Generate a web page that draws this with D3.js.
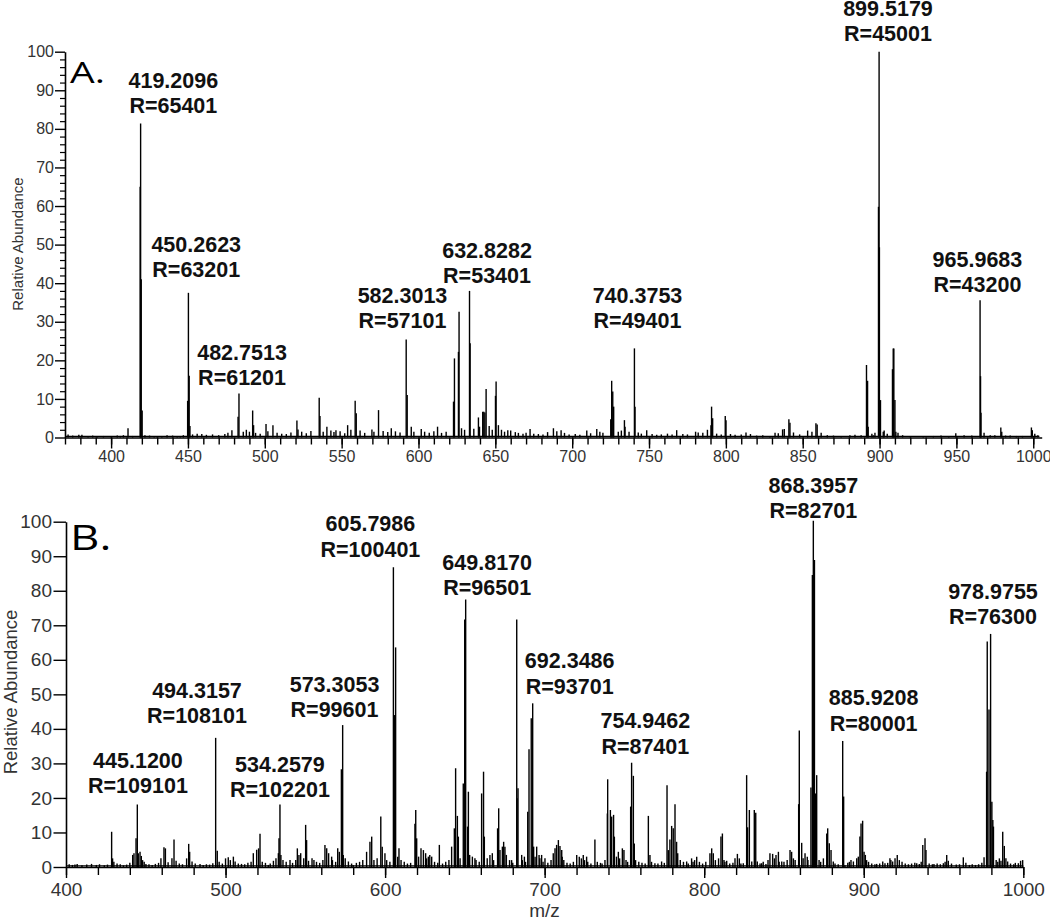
<!DOCTYPE html>
<html><head><meta charset="utf-8">
<script src="https://cdn.jsdelivr.net/npm/d3@7"></script>
<style>
body{margin:0;background:#fff}
svg{display:block}
text{font-family:"Liberation Sans",Arial,sans-serif}
text.letter{font-family:"Open Sans",Lato,sans-serif}
</style></head>
<body><svg id="c" width="1050" height="923"></svg>
<script>
// ---------- DATA ----------
// Panel A: [m/z, relative abundance]
const peaksA = [
 [372,0.8],[375,0.5],[379,0.7],[381,0.7],[385,0.4],[388,0.5],[391,0.4],[395,0.4],[400,0.3],[404,0.5],[406,0.4],[408,0.6],[411,2.4],[414,0.4],
 [418.9,65],[419.2,81.4],[419.6,41],[420.2,7],[422,0.6],[425,0.5],[428,0.4],[430,0.4],[433,0.4],[436.4,0.6],[440,0.5],[443,0.3],[445,0.4],[447,0.6],
 [449.8,9.5],[450.3,37.5],[450.8,16],[451.3,3],[453,0.8],[456,1.0],[459,0.9],[462,0.7],[466,0.8],[470,0.6],[474,0.9],[476,1.2],[478.6,1.9],
 [482.6,5.4],[483.2,11.4],[486,1.5],[488,2.0],[490,1.5],[492.1,7.0],[492.7,3.2],[494,1.2],[497,1.0],[500.8,3.5],[502,1.6],[505.3,3.2],[508,1.2],
 [511,1.0],[514,0.9],[517,1.3],[520.9,4.4],[521.6,2.1],[524,1.5],[527,1.1],[530,1.7],[535.4,10.3],[535.9,5.6],[538,1.5],[540.4,2.8],[543,1.8],
 [545,1.4],[546.3,1.9],[549,1.6],[552,1.1],[553.9,3.2],[556,2.0],[558.8,9.5],[559.5,6.3],[562,1.8],[565,1.2],[569.7,2.1],[571,1.5],[574,7.1],
 [577,1.7],[580,1.4],[582.3,2.4],[585,1.6],[588,1.3],[592,25.4],[592.65,11],[595.3,2.8],[597,1.5],[601.8,2.2],[604,1.5],[607,1.2],[610,1.6],
 [612.4,2.8],[615,1.2],[618,1.5],[622.8,9.3],[623.4,20.5],[626,22.2],[626.4,32.6],[628,2.4],[630,2.0],[633.2,38.0],[633.6,24.4],[636,2.3],
 [639,5.2],[639.7,2.8],[641.8,6.7],[642.5,6.7],[643.2,6.5],[644,12.6],[646,3.0],[648,2.0],[650.1,10.8],[650.5,14.5],[652,3.2],[654,2.0],[656,1.5],
 [658.1,1.9],[660,1.8],[663,1.4],[665,1.2],[668,1.0],[670,1.2],[672.6,2.2],[675,1.0],[678,0.9],[681,0.8],[684,1.4],[687.8,2.4],[690,1.6],
 [692.8,1.9],[695,1.2],[698,0.8],[702,0.9],[705,0.7],[709.5,1.8],[712,1.1],[716,2.2],[718,1.5],[720,1.2],[725.1,4.7],[725.7,14.7],[726.4,11.9],
 [727,8.0],[730,1.5],[732,1.8],[734,4.5],[734.4,2.8],[737,1.5],[740.5,23.1],[740.9,8.0],[743,1.3],[745,1.0],[748.5,1.9],[752,0.9],[755,0.7],
 [758,0.8],[762,1.0],[765,0.8],[768,1.9],[772,0.9],[775,0.8],[780.3,1.5],[782,1.3],[785,1.2],[788,2.0],[790.3,3.2],[790.7,8.0],[791.4,5.0],
 [794,1.0],[797,0.8],[799.6,5.6],[800.1,4.5],[803,0.9],[806,0.7],[810,0.8],[813.1,1.3],[816,0.9],[820,0.5],[824,0.6],[828.7,0.4],[832,1.2],
 [834.1,1.1],[836.9,2.1],[838,2.2],[841,4.7],[841.7,3.8],[844,1.3],[848,0.8],[853.2,1.8],[856,1.5],[858.6,3.7],[859.4,3.4],[862,1.2],[866,0.6],
 [870,0.5],[875,0.4],[880.7,0.6],[884,0.7],[888,0.6],[891.5,18.8],[892.2,14.7],[892.6,2.8],[895,1.0],[895.9,0.6],[897,1.2],
 [899.3,59.8],[899.7,100],[899.9,49.3],[900.6,9.7],[902.4,1.5],[903,1.8],[905,1.0],[908.4,17.7],[908.9,23.1],[909.3,23.1],[910,9.7],[910.6,1.5],
 [912,1.2],[915,0.6],[920,0.4],[928.4,0.4],[935,0.4],[940,0.5],[945,0.4],[949.6,1.1],[955,0.6],[960,0.5],[965.4,35.6],[965.7,15.9],[966,6.4],
 [968,1.2],[972,0.6],[975,0.6],[978.9,2.6],[979.5,1.5],[982,0.5],[985,0.5],[989,0.4],[993,0.4],[998.8,2.6],[999.4,1.9],[1001,1.0],[1003,0.6]
];
// annotation: [label line 1, label line 2, anchor m/z, anchor abundance]
const labelsA = [
 ["419.2096","R=65401",440.5,84.0],
 ["450.2623","R=63201",455.4,41.6],
 ["482.7513","R=61201",485.2,13.6],
 ["582.3013","R=57101",589.6,28.4],
 ["632.8282","R=53401",644.6,40.0],
 ["740.3753","R=49401",742.5,28.4],
 ["899.5179","R=45001",905.5,102.7],
 ["965.9683","R=43200",963.7,37.7]
];
const xMajorA = [400,450,500,550,600,650,700,750,800,850,900,950,1000];
const yMajor = [0,10,20,30,40,50,60,70,80,90,100];

// Panel B
const peaksB = [
 [402,0.8],[404,0.6],[405.6,0.7],[407,0.9],[410,0.5],[413,0.7],[416,0.9],[419,0.6],[421,0.8],[424,0.5],[426,0.7],
 [428.6,10.2],[429.2,2.5],[430,1.5],[432,1.0],[434,0.8],[436,0.5],[438,0.7],[440,1.2],[441.8,3.5],[442.6,4.0],[443.9,8.3],[444.7,18.1],
 [445.3,4.0],[446.4,4.4],[447.2,3.2],[448,2.0],[449,1.5],[450.1,0.9],[452,0.8],[454,0.6],[456,0.9],[458,1.2],[459.5,2.5],[461.4,5.7],[462.3,5.4],
 [464,1.4],[466.4,2.5],[467.7,8.0],[469,1.8],[471,1.0],[473,0.8],[475.6,2.5],[476.9,6.7],[477.5,4.4],[479,1.6],[481,1.0],[484,0.9],[486,0.6],
 [488,0.8],[490,0.7],[492,1.1],[493.8,37.4],[494.8,4.7],[496,1.5],[498,1.0],[500,2.5],[501.7,2.8],[503,2.0],[504.9,3.0],[506,1.6],[508,1.0],
 [510,0.9],[512,0.8],[514,1.2],[516,1.5],[517.4,4.0],[519.5,5.0],[520.7,5.4],[521.6,9.6],[523,1.5],[525,1.2],[526.8,0.6],[528,1.0],[530,1.8],
 [531.6,2.5],[533.1,4.0],[533.5,8.3],[534.1,18.1],[534.7,3.5],[536,2.0],[538,1.5],[540.4,2.0],[542,1.2],[544,2.0],[545,5.4],[546,3.5],[547.1,4.0],
 [549,2.5],[550.2,12.2],[550.8,7.8],[552,1.8],[554.2,2.5],[555.4,2.0],[557,1.5],[559,1.2],[561,2.0],[562.3,6.4],[563.4,5.4],[564.6,4.0],
 [566.5,3.0],[567,2.0],[569,1.5],[570.3,5.4],[571.3,4.4],[572.6,28.3],[573.4,41.1],[573.8,3.5],[575,2.5],[577,1.6],[579,1.0],[580,0.6],[582,1.2],
 [584,1.5],[586,2.0],[588.4,4.4],[590.5,7.3],[591.6,8.8],[593,2.0],[595,2.5],[597.3,14.6],[598.2,5.9],[599.9,4.0],[601,2.0],[603,1.5],
 [605.2,86.8],[605.9,44.0],[606.6,63.6],[607.9,3.0],[608.7,5.4],[610,2.0],[612,1.5],[614,1.0],[616,1.2],[618.7,12.5],[619.2,16.5],[619.8,8.3],
 [621,3.0],[622.5,5.4],[624,4.9],[625.4,4.0],[626,2.5],[627.1,3.0],[628,3.5],[629.2,3.0],[631,1.5],[633,1.2],[634,6.4],[636,1.0],[638,1.5],
 [640,2.0],[641.7,5.9],[643.4,11.2],[644.2,28.6],[645.3,14.8],[645.9,8.8],[647,2.5],[649,24.2],[649.9,71.7],[650.5,77.5],[651.7,11.7],[652.2,21.8],
 [653,3.5],[654.7,3.0],[656.3,2.5],[657,2.0],[659,1.5],[660.5,21.3],[661.7,27.6],[662.2,8.8],[664,2.5],[665.7,3.5],[667.2,4.0],[668,2.0],
 [670.5,11.2],[671.2,17.0],[672,4.9],[673.5,5.9],[674.3,7.3],[675.1,5.9],[676,3.5],[678,2.0],[679.3,2.0],[680,1.2],[682.5,71.7],[682.7,19.9],
 [683.3,22.8],[685.6,3.5],[686,2.0],[687.3,3.0],[688,1.5],[689.4,16.0],[690.2,34.1],[691.6,43.1],[692.5,47.4],[693.1,5.9],[694,3.0],[695,5.9],
 [696.5,3.5],[697,2.5],[698.1,3.5],[699,1.5],[700.2,2.5],[702,1.2],[704,2.0],[705.4,4.0],[706.5,5.4],[707.5,6.4],[708.6,7.8],[709.6,6.1],
 [710.7,4.9],[711,3.0],[712,2.0],[714,1.2],[716,1.0],[718,1.5],[720.1,3.5],[721.7,3.0],[723,2.5],[724.2,3.5],[725,2.0],[726.3,3.0],[727,1.5],
 [729,1.0],[731.5,8.0],[733,1.5],[735,1.2],[736,1.0],[737.8,2.0],[739.3,15.5],[739.5,25.4],[741.2,16.5],[742,14.6],[743.2,15.1],[743.7,8.8],
 [745,3.0],[746.2,4.4],[747,2.5],[748.7,5.4],[749.7,4.9],[751,2.0],[752,1.5],[753.9,17.5],[754.5,30.2],[755.6,26.4],[756.2,6.8],[757,2.0],
 [759,1.5],[761,1.2],[763,1.0],[765,14.8],[766,3.5],[767,1.5],[769.1,1.1],[771,1.0],[773.3,1.6],[775,1.2],[776.7,23.7],[777.5,4.9],[778.5,8.0],
 [779.6,11.9],[780.6,11.2],[781.7,18.2],[782.7,7.3],[783.4,4.0],[785,2.0],[787,1.5],[789,1.6],[790,1.0],[792.1,2.5],[793,1.5],[794,2.0],
 [795.3,3.0],[797,1.5],[799,1.0],[801,1.5],[803.6,4.0],[804.7,5.4],[805.7,4.0],[807,2.0],[809,2.5],[810.5,8.8],[811.4,9.7],[812.4,2.0],[813,1.5],
 [814.1,1.8],[816,1.0],[818,1.2],[819.3,2.5],[820.8,3.8],[822,2.5],[823,1.0],[824.5,1.1],[826.6,26.6],[827.2,11.5],[828.3,16.5],[829.8,1.6],
 [831.4,16.5],[832.3,15.7],[833.3,1.6],[835,1.0],[836,1.1],[837,1.5],[838.7,0.9],[840,2.0],[841.2,4.0],[842.9,3.8],[844,2.5],[845,3.5],[846.5,4.4],
 [847,1.5],[848.6,1.6],[850,1.5],[852,2.0],[853.8,4.9],[854.8,4.4],[855.9,2.5],[857,2.0],[859.2,18.2],[859.6,39.5],[861.1,7.0],[862,2.5],
 [863.2,4.0],[864.6,3.0],[865,2.0],[866.9,23.0],[867.8,84.6],[868.4,100.3],[869.1,88.9],[869.7,21.3],[870.5,26.6],[872,2.0],[873,1.5],
 [874.7,2.5],[876.8,9.7],[877.4,11.2],[878.4,6.9],[879.5,4.9],[880.9,1.6],[882,1.0],[884,0.8],[886.8,36.5],[887.4,20.4],[888.2,0.5],[890,1.2],
 [891,1.5],[892,2.0],[893.5,1.6],[895.6,2.5],[896.6,3.0],[897.6,8.8],[898.3,12.6],[899.3,13.4],[900.2,4.4],[901,3.5],[901.8,2.0],[903,1.5],
 [905,1.0],[907,0.8],[908.1,0.9],[910,1.0],[911.9,1.6],[913.3,1.1],[915,1.2],[916.4,2.5],[917,2.0],[918.1,1.6],[919.6,2.5],[921,3.5],[922.3,2.0],
 [924,1.5],[926,1.0],[928,0.8],[930,1.0],[932,1.2],[933.2,1.1],[934.8,0.9],[936,1.5],[937,6.4],[938.4,8.3],[939,4.9],[941,1.0],[943,0.8],
 [944,0.9],[946,1.0],[948,0.8],[949.9,1.1],[951,1.5],[952,3.5],[953,1.8],[955,1.0],[958,0.7],[960,0.8],[962.4,2.8],[964,1.2],[966.2,0.6],
 [968,0.8],[970,0.6],[972,0.8],[974,1.2],[975.4,2.8],[977,27.6],[977.4,65.3],[978.5,45.6],[979.5,67.5],[980.3,18.9],[980.9,13.6],[981.3,11.7],
 [983,2.0],[984,1.5],[985,2.5],[986,1.8],[987.1,10.2],[988.1,6.1],[989.1,2.5],[990.2,1.6],[992,1.0],[994,0.8],[995,1.2],[996.9,1.1],[998.3,1.8],[999.6,2.0]
];
const labelsB = [
 ["445.1200","R=109101",445.1,21.3],
 ["494.3157","R=108101",482.1,41.6],
 ["534.2579","R=102201",534.1,20.3],
 ["573.3053","R=99601",568.3,43.4],
 ["605.7986","R=100401",590.8,89.9],
 ["649.8170","R=96501",664.0,78.8],
 ["692.3486","R=93701",715.7,50.2],
 ["754.9462","R=87401",763.1,32.8],
 ["868.3957","R=82701",868.4,101.0],
 ["885.9208","R=80001",906.2,39.5],
 ["978.9755","R=76300",981.0,70.4]
];
const xMajorB = [400,500,600,700,800,900,1000];
const yLabel = "Relative Abundance";
const xLabel = "m/z";

// ---------- DRAW ----------
const svg = d3.select("#c");
const fmt = d3.format("d");

function panel(cfg){
  const g = svg.append("g");
  const x = d3.scaleLinear().domain(cfg.xDomain).range(cfg.xRange);
  const y = d3.scaleLinear().domain([0,100]).range(cfg.yRange);

  // x minor ticks
  g.append("g").attr("transform",`translate(0,${cfg.yRange[0]})`)
    .call(d3.axisBottom(x).tickValues(cfg.xMinor).tickSize(cfg.xMinorLen).tickFormat("").tickSizeOuter(0))
    .call(a=>a.select(".domain").remove());
  // x major ticks
  const ax = g.append("g").attr("transform",`translate(0,${cfg.yRange[0]})`)
    .call(d3.axisBottom(x).tickValues(cfg.xMajor).tickFormat(fmt).tickSize(cfg.xMajorLen).tickPadding(cfg.xPad).tickSizeOuter(0));
  ax.select(".domain").attr("stroke","#000").attr("stroke-width",1.6);
  ax.selectAll("text").attr("font-size",cfg.tickFont).attr("fill","#333");
  g.selectAll(".tick line").attr("stroke","#000").attr("stroke-width",1.4);

  // y minor
  if(cfg.yMinor){
    g.append("g").attr("transform",`translate(${cfg.xRange[0]},0)`)
      .call(d3.axisLeft(y).tickValues(cfg.yMinor).tickSize(5).tickFormat("").tickSizeOuter(0))
      .call(a=>a.select(".domain").remove())
      .selectAll(".tick line").attr("stroke","#000").attr("stroke-width",1.2);
  }
  const ay = g.append("g").attr("transform",`translate(${cfg.xRange[0]},0)`)
    .call(d3.axisLeft(y).tickValues(yMajor).tickFormat(fmt).tickSize(cfg.yMajorLen).tickPadding(cfg.yPad).tickSizeOuter(0));
  ay.select(".domain").attr("stroke","#000").attr("stroke-width",1.6);
  ay.selectAll(".tick line").attr("stroke","#000").attr("stroke-width",1.4);
  ay.selectAll("text").attr("font-size",cfg.tickFont).attr("fill","#333");

  // baseline trace
  g.append("line").attr("x1",cfg.xRange[0]).attr("x2",x(cfg.traceEnd))
    .attr("y1",y(0.3)).attr("y2",y(0.3)).attr("stroke","#000").attr("stroke-width",1.2);
  // peaks
  g.append("g").selectAll("line").data(cfg.peaks).join("line")
    .attr("x1",d=>x(d[0])).attr("x2",d=>x(d[0]))
    .attr("y1",y(0)).attr("y2",d=>y(d[1]))
    .attr("stroke","#000").attr("stroke-width",1.4);

  // annotations
  const lab = g.append("g").selectAll("text").data(cfg.labels).join("text")
    .attr("text-anchor","middle").attr("font-weight","bold").attr("font-size",21.5).attr("fill","#111")
    .attr("x",d=>x(d[2])).attr("y",d=>y(d[3]));
  lab.append("tspan").attr("x",d=>x(d[2])).attr("dy",-25.3).text(d=>d[0]);
  lab.append("tspan").attr("x",d=>x(d[2])).attr("dy",25.3).text(d=>d[1]);

  // y label
  g.append("text").attr("transform",`translate(${cfg.yTitleX},${cfg.yTitleY}) rotate(-90)`)
    .attr("text-anchor","middle").attr("font-size",cfg.yTitleFont).attr("fill","#333").text(yLabel);

  // panel letter
  g.append("text").attr("class","letter").attr("transform",`translate(${cfg.letterX},${cfg.letterY}) scale(1.3,1)`)
    .attr("font-size",cfg.letterFont).attr("fill","#000").text(cfg.letter);
  return {x,y,g};
}

const minorA = d3.range(370,1001,10);
const minorB = d3.range(400,1001,20);
const yMinorA = d3.range(0,101,2).filter(v=>v%10!==0);

panel({xDomain:[370,1005.5], xRange:[65,1041.7], yRange:[437.5,51.7], peaks:peaksA, labels:labelsA,
  xMajor:xMajorA, xMinor:minorA, xMajorLen:11, xMinorLen:7, xPad:2, tickFont:16, yMajorLen:10, yPad:1,
  yMinor:yMinorA, traceEnd:1004, yTitleX:23, yTitleY:244, yTitleFont:15, letter:"A.", letterX:70, letterY:83, letterFont:30});

panel({xDomain:[400,1000], xRange:[66,1023.3], yRange:[867,521.7], peaks:peaksB, labels:labelsB,
  xMajor:xMajorB, xMinor:minorB, xMajorLen:11, xMinorLen:8, xPad:5, tickFont:19, yMajorLen:12.5, yPad:1.5,
  yMinor:null, traceEnd:1000, yTitleX:17, yTitleY:692, yTitleFont:18.5, letter:"B.", letterX:70, letterY:550, letterFont:35});

svg.append("text").attr("x",544.5).attr("y",917).attr("text-anchor","middle")
  .attr("font-size",19).attr("fill","#333").text(xLabel);
</script></body></html>
